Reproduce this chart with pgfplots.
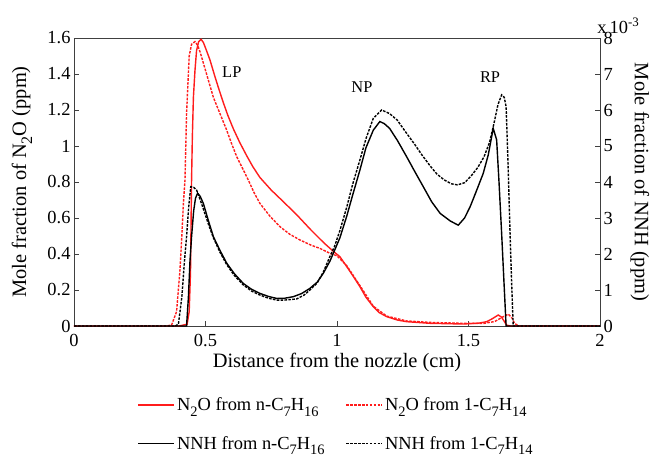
\documentclass[border=0pt]{standalone}
\usepackage{pgfplots}
\pgfplotsset{compat=1.18}
\usepackage{fontspec}
\setmainfont{Liberation Serif}

\definecolor{nored}{RGB}{255,28,28}
\newcommand{\tickfont}{\fontsize{18.5}{20}\selectfont}
\newcommand{\labfont}{\fontsize{20.5}{22}\selectfont}
\newcommand{\legfont}{\fontsize{18.5}{20}\selectfont}
\newcommand{\peakfont}{\fontsize{16.5}{18}\selectfont}
% large, low subscripts for the formulas
\newcommand{\lsub}[1]{\raisebox{-6bp}{\fontsize{16}{16}\selectfont #1}}
\newcommand{\gsub}[1]{\raisebox{-5.5bp}{\fontsize{14.5}{15}\selectfont #1}}

\tikzset{
  solidln/.style={line width=1.4bp},
  dashln/.style={line width=1.4bp, dash pattern=on 2.6bp off 1.3bp},
}

\pgfplotsset{
  common/.style={
    scale only axis, width=526bp, height=288bp,
    xmin=0, xmax=2, clip=false,
    tick align=inside, major tick length=5bp,
    axis line style={black!75, line width=0.7bp},
    every tick/.style={black!75, line width=0.7bp},
    tick label style={font=\tickfont},
    /pgf/number format/assume math mode=true,
    label style={font=\labfont},
  },
}

\begin{document}
\begin{tikzpicture}
\path[use as bounding box] (-74bp,-132bp) rectangle (581bp,326bp);

% N2O on the left axis (ppm)
\begin{axis}[common,
  ymin=0, ymax=1.6,
  xtick={0,0.5,1,1.5,2}, ytick={0,0.2,...,1.6},
  xtick pos=bottom, ytick pos=left,
  xticklabel style={yshift=-5bp},
  xlabel={Distance from the nozzle (cm)},
  ylabel={Mole fraction of N\lsub{2}O (ppm)},
  xlabel style={at={(axis description cs:0.5,-0.128)}, anchor=center},
  ylabel style={at={(axis description cs:-0.099,0.5)}, anchor=center, rotate=0},
]
\addplot[nored, solidln] coordinates {
(0,0) (0.40,0) (0.43,0.01) (0.438,0.08) (0.443,0.3) (0.447,0.81) (0.450,1.05)
(0.454,1.27) (0.46,1.42) (0.466,1.53) (0.474,1.58) (0.483,1.593) (0.492,1.575)
(0.50,1.545) (0.517,1.478) (0.536,1.385) (0.55,1.32) (0.568,1.24) (0.585,1.17)
(0.606,1.095) (0.63,1.02) (0.657,0.945) (0.68,0.885) (0.707,0.825) (0.75,0.755)
(0.80,0.685) (0.85,0.613) (0.90,0.535) (0.95,0.462) (0.986,0.415)
(1.011,0.385) (1.037,0.33) (1.06,0.28) (1.087,0.219) (1.11,0.16) (1.138,0.107)
(1.16,0.075) (1.189,0.052) (1.23,0.033) (1.265,0.024) (1.353,0.015) (1.48,0.011)
(1.54,0.016) (1.569,0.024) (1.59,0.04) (1.613,0.061) (1.625,0.05) (1.635,0.028)
(1.645,0.005) (1.66,0) (2,0)
};
\addplot[nored, dashln] coordinates {
(0,0) (0.35,0) (0.371,0.005) (0.39,0.08) (0.403,0.311) (0.41,0.5) (0.416,0.681)
(0.422,0.81) (0.428,1.18) (0.438,1.50) (0.447,1.565) (0.46,1.58) (0.47,1.56)
(0.48,1.52) (0.492,1.46) (0.51,1.37) (0.53,1.27) (0.555,1.18) (0.58,1.09)
(0.60,1.01) (0.619,0.94) (0.644,0.867) (0.663,0.81) (0.685,0.74) (0.707,0.681)
(0.745,0.61) (0.783,0.552) (0.82,0.51) (0.859,0.478) (0.90,0.45) (0.935,0.431)
(0.973,0.404) (1.0,0.39) (1.037,0.335) (1.087,0.225) (1.138,0.11) (1.189,0.055)
(1.265,0.028) (1.353,0.02) (1.48,0.015) (1.56,0.015) (1.60,0.025) (1.63,0.05)
(1.651,0.066) (1.665,0.045) (1.675,0.015) (1.69,0) (2,0)
};
\node[font=\peakfont] at (axis cs:0.60,1.41) {LP};
\node[font=\peakfont] at (axis cs:1.095,1.328) {NP};
\node[font=\peakfont] at (axis cs:1.582,1.383) {RP};
\end{axis}

% NNH on the right axis (in units of 1e-3 ppm)
\begin{axis}[common,
  ymin=0, ymax=8, ytick={0,1,...,8},
  axis x line=none, axis y line*=right, ytick pos=right,
  ylabel={Mole fraction of NNH (ppm)},
  ylabel style={at={(axis description cs:1.076,0.5)}, anchor=center, rotate=180},
  legend columns=2,
  legend cell align=left,
  legend style={draw=none, fill=none, font=\legfont,
    at={(axis description cs:0.115,-0.235)}, anchor=north west,
    /tikz/every even column/.append style={column sep=19bp},
    row sep=20bp},
  legend image code/.code={\draw[#1] (0bp,0bp) -- (36bp,0bp);},
]
\addlegendimage{nored, solidln}
\addlegendentry{N\gsub{2}O from n-C\gsub{7}H\gsub{16}}
\addlegendimage{nored, dashln}
\addlegendentry{N\gsub{2}O from 1-C\gsub{7}H\gsub{14}}
\addplot[black, solidln] coordinates {
(0,0) (0.428,0) (0.435,0.8) (0.441,1.8) (0.447,2.48) (0.455,3.2) (0.462,3.55)
(0.470,3.69) (0.48,3.6) (0.492,3.4) (0.51,2.95) (0.53,2.48) (0.555,2.1)
(0.581,1.74) (0.61,1.45) (0.644,1.18) (0.675,1.02) (0.707,0.905) (0.74,0.82)
(0.771,0.765) (0.80,0.77) (0.834,0.815) (0.865,0.9) (0.897,1.045) (0.925,1.22)
(0.948,1.465) (0.973,1.80) (0.986,2.02) (1.011,2.45) (1.037,3.05) (1.06,3.65)
(1.087,4.33) (1.11,4.95) (1.138,5.44) (1.163,5.68) (1.18,5.62) (1.2,5.49)
(1.23,5.15) (1.265,4.70) (1.295,4.3) (1.328,3.87) (1.36,3.45) (1.392,3.13)
(1.43,2.92) (1.461,2.8) (1.485,3.0) (1.506,3.31) (1.53,3.75) (1.556,4.24)
(1.575,4.75) (1.594,5.49) (1.607,5.17) (1.616,4.0) (1.626,2.57) (1.635,1.2)
(1.643,0) (2,0)
};
\addlegendentry{NNH from n-C\gsub{7}H\gsub{16}}
\addplot[black, dashln] coordinates {
(0,0) (0.385,0) (0.397,0.05) (0.41,0.8) (0.42,1.8) (0.428,2.48) (0.436,3.3)
(0.444,3.87) (0.455,3.85) (0.466,3.78) (0.48,3.5) (0.492,3.25) (0.51,2.85)
(0.53,2.45) (0.555,2.05) (0.581,1.7) (0.61,1.4) (0.644,1.14) (0.675,0.97)
(0.707,0.86) (0.74,0.77) (0.771,0.72) (0.80,0.72) (0.846,0.75) (0.875,0.86)
(0.897,1.0) (0.925,1.2) (0.948,1.5) (0.973,1.93) (0.99,2.2) (1.011,2.65)
(1.037,3.3) (1.06,3.95) (1.087,4.61) (1.11,5.2) (1.138,5.77) (1.17,6.0)
(1.2,5.9) (1.229,5.72) (1.26,5.4) (1.293,5.07) (1.325,4.73) (1.356,4.43)
(1.38,4.22) (1.407,4.06) (1.435,3.95) (1.458,3.92) (1.485,3.98) (1.508,4.15)
(1.535,4.4) (1.559,4.70) (1.58,5.1) (1.597,5.63) (1.612,6.15) (1.626,6.42)
(1.636,6.35) (1.643,6.09) (1.65,4.6) (1.658,2.57) (1.664,1.2) (1.67,0) (2,0)
};
\addlegendentry{NNH from 1-C\gsub{7}H\gsub{14}}
\node[font=\tickfont, anchor=base west, inner sep=0pt]
  at (axis description cs:0.9945,1.017) {x\,10\textsuperscript{-3}};
\end{axis}
\end{tikzpicture}
\end{document}
